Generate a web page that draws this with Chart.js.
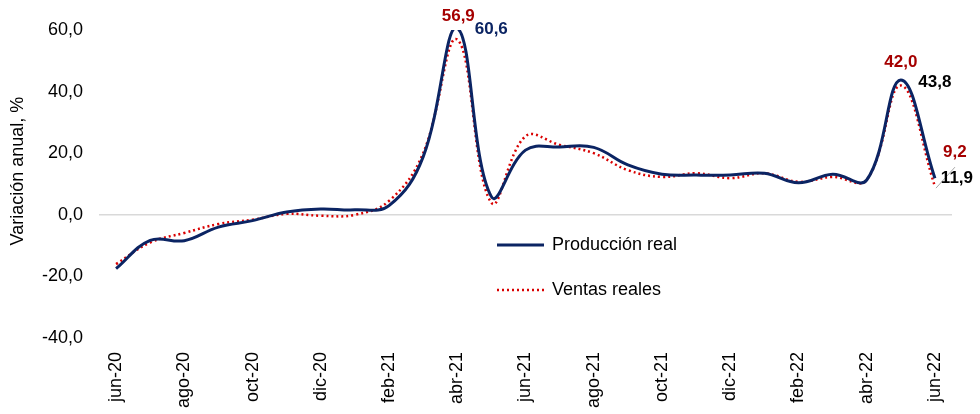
<!DOCTYPE html>
<html>
<head>
<meta charset="utf-8">
<script src="https://cdn.jsdelivr.net/npm/chart.js@4.4.1/dist/chart.umd.min.js"></script>
<style>
  html, body { margin: 0; padding: 0; background: #fff; }
  #wrap { width: 980px; height: 414px; }
</style>
</head>
<body>
<div id="wrap"><canvas id="myChart" width="980" height="414"></canvas></div>
<script>
// Meses (eje x)
const meses = ['jun-20','jul-20','ago-20','sep-20','oct-20','nov-20','dic-20',
  'ene-21','feb-21','mar-21','abr-21','may-21','jun-21','jul-21','ago-21','sep-21',
  'oct-21','nov-21','dic-21','ene-22','feb-22','mar-22','abr-22','may-22','jun-22'];

// Variación anual, %
const produccionReal = [-17.5, -8.3, -8.4, -4.0, -1.9, 0.9, 1.9, 1.6, 3.0, 18.8, 60.6, 5.9,
  21.0, 22.0, 21.9, 16.2, 13.2, 12.9, 12.9, 13.5, 10.4, 13.2, 11.3, 43.8, 11.9];
const ventasReales = [-16.0, -9.0, -5.9, -3.0, -1.6, 0.3, -0.3, 0.0, 4.5, 20.0, 56.9, 3.9,
  25.5, 22.7, 20.0, 14.5, 12.3, 13.5, 11.9, 13.5, 10.7, 12.3, 11.3, 42.0, 9.2];

const yTicks = [-40, -20, 0, 20, 40, 60];
const tituloY = 'Variación anual, %';

const azul = '#0B2463';
const rojo = '#D90000';
const rojoTexto = '#A50000';
const fuente = '"Liberation Sans", Arial, sans-serif';

const fmt = v => v.toFixed(1).replace('.', ',');

// etiquetas de datos: [serie, índice, color, dx, dy]
const etiquetas = [
  [1, 10, rojoTexto, 1, -23],
  [0, 10, azul, 34, 1],
  [1, 23, rojoTexto, 0, -23],
  [0, 23, '#000000', 34, 2],
  [1, 24, rojoTexto, 20, -34],
  [0, 24, '#000000', 22, 0]
];

const dataLabels = {
  id: 'dataLabels',
  afterDatasetsDraw(chart) {
    const ctx = chart.ctx;
    ctx.save();
    // línea guía de la última etiqueta
    const p = chart.getDatasetMeta(0).data[24];
    ctx.strokeStyle = '#A6A6A6';
    ctx.lineWidth = 1;
    ctx.beginPath();
    ctx.moveTo(p.x + 1, p.y + 10);
    ctx.lineTo(p.x + 20, p.y - 11);
    ctx.stroke();

    ctx.font = 'bold 17px ' + fuente;
    ctx.textAlign = 'center';
    ctx.textBaseline = 'middle';
    etiquetas.forEach(([ds, i, color, dx, dy]) => {
      const pt = chart.getDatasetMeta(ds).data[i];
      const v = chart.data.datasets[ds].data[i];
      ctx.fillStyle = color;
      ctx.fillText(fmt(v), pt.x + dx, pt.y + dy);
    });
    ctx.restore();
  }
};

const legendaInterna = {
  id: 'legendaInterna',
  afterDraw(chart) {
    const ctx = chart.ctx;
    ctx.save();
    ctx.font = '18px ' + fuente;
    ctx.textBaseline = 'middle';
    ctx.textAlign = 'left';
    chart.data.datasets.forEach((ds, k) => {
      const y = 245 + k * 45;
      ctx.strokeStyle = ds.borderColor;
      ctx.lineWidth = ds.borderWidth;
      ctx.setLineDash(ds.borderDash || []);
      ctx.beginPath();
      ctx.moveTo(497, y);
      ctx.lineTo(544, y);
      ctx.stroke();
      ctx.setLineDash([]);
      ctx.fillStyle = '#000';
      ctx.fillText(ds.label, 552, y);
    });

    // título del eje y
    ctx.translate(18, 171);
    ctx.rotate(-Math.PI / 2);
    ctx.textAlign = 'center';
    ctx.fillText(tituloY, 0, 0);
    ctx.restore();
  }
};

const ctx = document.getElementById('myChart').getContext('2d');
const myChart = new Chart(ctx, {
  type: 'line',
  data: {
    labels: meses,
    datasets: [{
      label: 'Producción real',
      data: produccionReal,
      borderColor: azul,
      borderWidth: 3,
      pointRadius: 0,
      tension: 0.4,
      fill: false
    }, {
      label: 'Ventas reales',
      data: ventasReales,
      borderColor: rojo,
      borderWidth: 2.5,
      borderDash: [2, 3],
      pointRadius: 0,
      tension: 0.4,
      fill: false
    }]
  },
  options: {
    responsive: false,
    animation: false,
    layout: { padding: { top: 30, right: 28, bottom: 0, left: 0 } },
    plugins: {
      legend: { display: false },
      title: { display: false },
      tooltip: { enabled: false }
    },
    scales: {
      x: {
        offset: true,
        grid: { display: false, drawTicks: false },
        border: { display: false },
        afterFit: s => { s.height = 76; },
        ticks: {
          autoSkip: false,
          maxRotation: 90,
          minRotation: 90,
          padding: 14,
          color: '#000',
          font: { size: 18, family: fuente },
          callback: (v, i) => (i % 2 === 0 ? meses[i] : '')
        }
      },
      y: {
        min: -40,
        max: 60,
        afterFit: s => { s.width = 99; },
        afterBuildTicks: s => { s.ticks = yTicks.map(v => ({ value: v })); },
        grid: {
          drawTicks: false,
          color: c => (c.tick && c.tick.value === 0 ? '#D9D9D9' : 'rgba(0,0,0,0)'),
          lineWidth: 1.5
        },
        border: { display: false },
        ticks: {
          padding: 16,
          color: '#000',
          font: { size: 18, family: fuente },
          callback: v => fmt(v)
        }
      }
    }
  },
  plugins: [dataLabels, legendaInterna]
});
</script>
</body>
</html>
